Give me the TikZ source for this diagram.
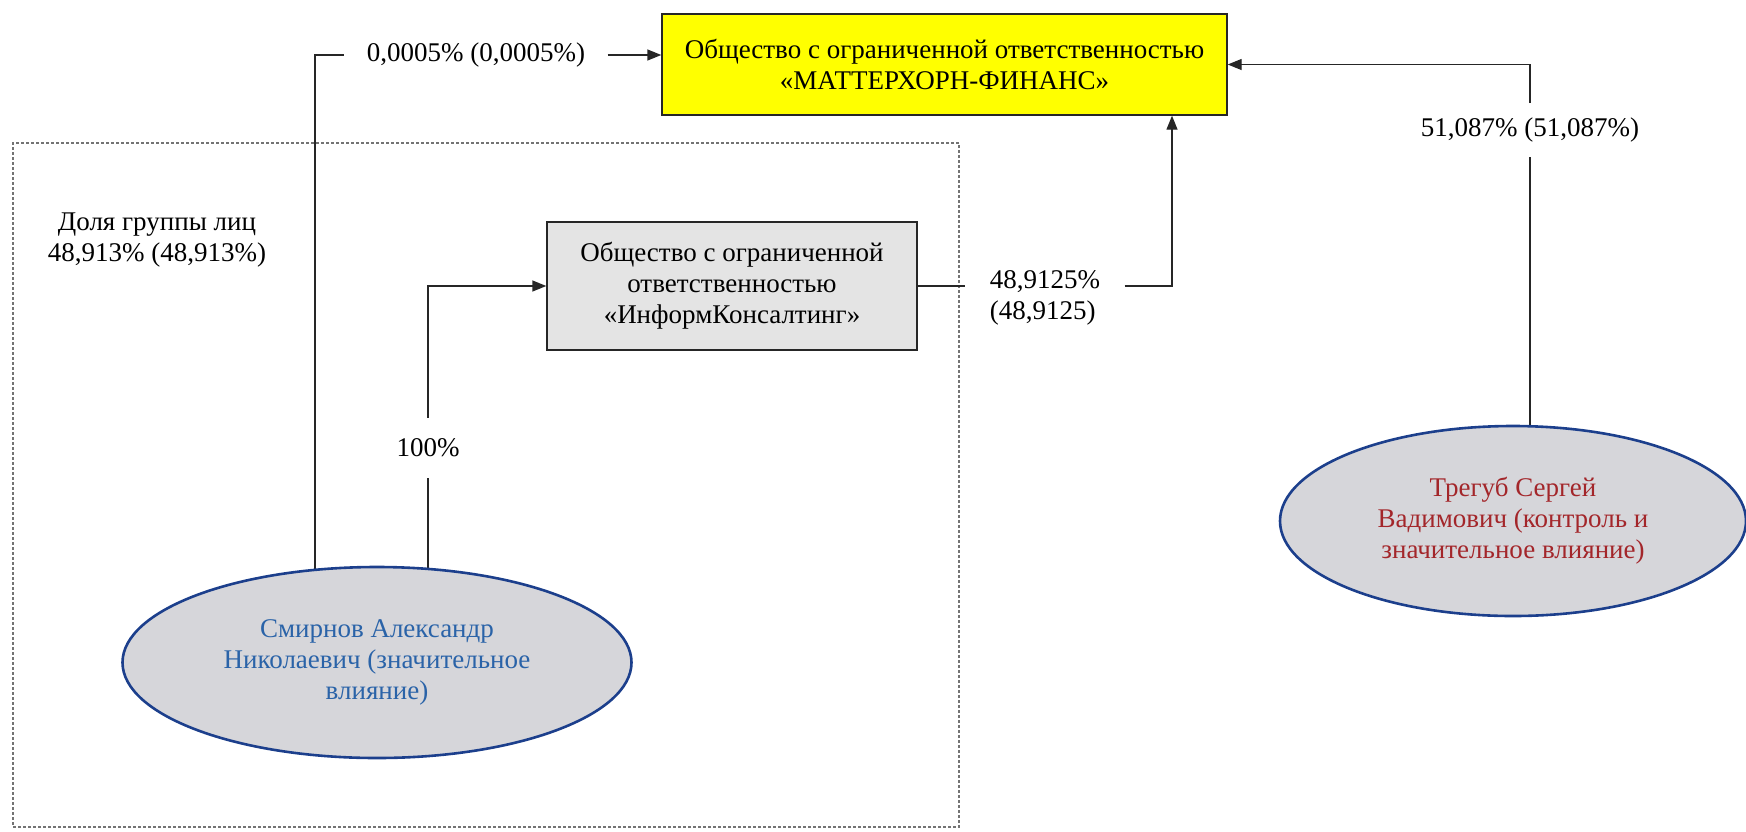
\documentclass[tikz,border=0pt]{standalone}
\usepackage{fontspec}
\setmainfont{Liberation Serif}
\usetikzlibrary{shapes.geometric,arrows.meta,backgrounds}
\definecolor{yelfill}{HTML}{FFFF00}
\definecolor{boxgray}{HTML}{E4E4E4}
\definecolor{ellgray}{HTML}{D6D6DA}
\definecolor{navy}{HTML}{1C3F8C}
\definecolor{smirblue}{HTML}{2A63A8}
\definecolor{tregred}{HTML}{A3262A}
\definecolor{linecol}{HTML}{262626}
\begin{document}
\begin{tikzpicture}[x=0.5pt,y=-0.5pt,
  font=\fontsize{13.5}{15.5}\selectfont,
  box/.style={draw=linecol, line width=0.7pt, align=center, inner sep=0pt},
  pers/.style={ellipse, draw=navy, line width=1.3pt, fill=ellgray, align=center, inner sep=0pt},
  lab/.style={align=center, inner sep=0pt},
  grpbox/.style={draw=black!55, line width=0.6pt, dash pattern=on 1.5pt off 1pt},
  conn/.style={draw=linecol, line width=0.7pt},
  arr/.style={conn, -{Triangle[length=7pt,width=5.5pt]}},
]
\useasboundingbox (0,0) rectangle (1746,831);

% group frame
\node[grpbox, minimum width=473pt, minimum height=342pt, inner sep=0pt] (grp) at (486,485) {};

% main nodes
\node[box, fill=yelfill, minimum width=282.5pt, minimum height=50.5pt] (yel) at (944.5,64.5)
  {Общество с ограниченной ответственностью\\«МАТТЕРХОРН-ФИНАНС»};
\node[box, fill=boxgray, minimum width=185pt, minimum height=64pt] (grey) at (732,286)
  {Общество с ограниченной\\ответственностью\\«ИнформКонсалтинг»};
\node[pers, minimum width=254.5pt, minimum height=95.5pt, text=smirblue] (smir) at (377,662.5)
  {Смирнов Александр\\Николаевич (значительное\\влияние)};
\node[pers, minimum width=233pt, minimum height=95pt, text=tregred] (treg) at (1513,521)
  {Трегуб Сергей\\Вадимович (контроль и\\значительное влияние)};

% labels
\node[lab, inner xsep=11pt] (l1) at (476,55) {0,0005\% (0,0005\%)};
\node[lab, minimum height=30pt] (l100) at (428,448) {100\%};
\node[lab, align=left, inner xsep=12pt] (l489) at (1045,298) {48,9125\%\\(48,9125)};
\node[lab, minimum height=26.5pt] (l51) at (1530,130) {51,087\% (51,087\%)};
\node[lab] (lgrp) at (157,240) {Доля группы лиц\\48,913\% (48,913\%)};

% helper coordinates
\coordinate (v315) at (315,0);
\coordinate (v1172) at (1172,0);

% connectors
\begin{pgfonlayer}{background}
\draw[conn] (smir.center -| v315) |- (l1.west);
\draw[conn] (smir.center -| l100) -- (l100.south);
\draw[conn] (treg.center -| l51) -- (l51.south);
\end{pgfonlayer}
\draw[arr] (l1.east) -- (l1.east -| yel.west);
\draw[arr] (l100.north) |- (grey.west);
\draw[conn] (grey.east) -- (grey.east -| l489.west);
\draw[arr] (grey.east -| l489.east) -| (yel.south -| v1172);
\draw[arr] (l51.north) |- (yel.east);
\end{tikzpicture}
\end{document}
